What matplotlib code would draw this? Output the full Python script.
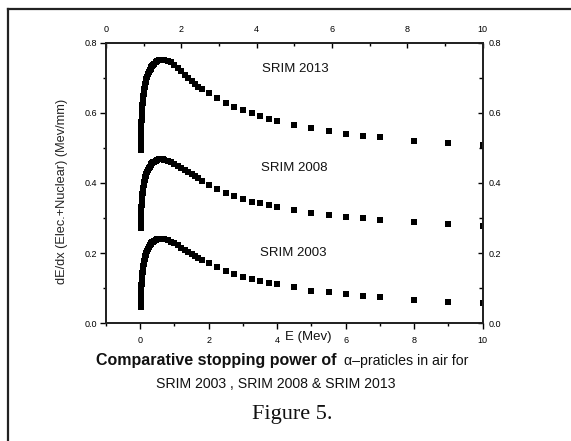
import matplotlib
matplotlib.use("Agg")
import matplotlib.pyplot as plt
from matplotlib.ticker import MultipleLocator, FixedLocator
from matplotlib.lines import Line2D

# ---------------- data ----------------
energy = [0.01, 0.011, 0.012, 0.013, 0.014, 0.015, 0.016, 0.017, 0.018, 0.02,
          0.0225, 0.025, 0.0275, 0.03, 0.0325, 0.035, 0.0375, 0.04, 0.045, 0.05,
          0.055, 0.06, 0.065, 0.07, 0.08, 0.09, 0.1, 0.11, 0.12, 0.13,
          0.14, 0.15, 0.16, 0.17, 0.18, 0.2, 0.225, 0.25, 0.275, 0.3,
          0.325, 0.35, 0.375, 0.4, 0.45, 0.5, 0.55, 0.6, 0.65, 0.7,
          0.8, 0.9, 1.0, 1.1, 1.2, 1.3, 1.4, 1.5, 1.6, 1.7,
          1.8, 2.0, 2.25, 2.5, 2.75, 3.0, 3.25, 3.5, 3.75, 4.0,
          4.5, 5.0, 5.5, 6.0, 6.5, 7.0, 8.0, 9.0, 10.0]

srim2013 = [0.493, 0.498, 0.503, 0.508, 0.512, 0.516, 0.520, 0.524, 0.528, 0.535,
            0.543, 0.550, 0.557, 0.563, 0.569, 0.575, 0.580, 0.585, 0.594, 0.603,
            0.610, 0.617, 0.623, 0.629, 0.639, 0.647, 0.654, 0.661, 0.667, 0.673,
            0.678, 0.683, 0.688, 0.692, 0.696, 0.703, 0.710, 0.716, 0.721, 0.726,
            0.730, 0.734, 0.737, 0.740, 0.745, 0.748, 0.750, 0.752, 0.752, 0.752,
            0.749, 0.744, 0.737, 0.728, 0.718, 0.708, 0.699, 0.690, 0.682, 0.674,
            0.667, 0.656, 0.641, 0.629, 0.617, 0.608, 0.600, 0.590, 0.583, 0.577,
            0.565, 0.556, 0.548, 0.541, 0.535, 0.530, 0.521, 0.513, 0.508]

srim2008 = [0.272, 0.276, 0.280, 0.284, 0.287, 0.290, 0.293, 0.296, 0.299, 0.304,
            0.310, 0.315, 0.320, 0.325, 0.329, 0.333, 0.337, 0.340, 0.347, 0.353,
            0.358, 0.363, 0.368, 0.372, 0.380, 0.387, 0.393, 0.398, 0.403, 0.408,
            0.412, 0.416, 0.420, 0.423, 0.426, 0.432, 0.438, 0.443, 0.447, 0.451,
            0.454, 0.457, 0.459, 0.461, 0.464, 0.466, 0.467, 0.467, 0.467, 0.466,
            0.464, 0.460, 0.455, 0.449, 0.443, 0.437, 0.431, 0.425, 0.419, 0.413,
            0.407, 0.395, 0.382, 0.372, 0.362, 0.354, 0.347, 0.342, 0.337, 0.331,
            0.322, 0.315, 0.310, 0.304, 0.299, 0.295, 0.288, 0.283, 0.277]

srim2003 = [0.047, 0.051, 0.055, 0.059, 0.062, 0.065, 0.068, 0.071, 0.074, 0.079,
            0.085, 0.090, 0.095, 0.100, 0.104, 0.108, 0.112, 0.115, 0.122, 0.128,
            0.133, 0.138, 0.143, 0.147, 0.155, 0.162, 0.168, 0.173, 0.178, 0.183,
            0.187, 0.191, 0.195, 0.198, 0.201, 0.207, 0.213, 0.218, 0.222, 0.226,
            0.229, 0.231, 0.233, 0.235, 0.237, 0.239, 0.240, 0.240, 0.240, 0.239,
            0.237, 0.233, 0.228, 0.222, 0.216, 0.210, 0.204, 0.198, 0.192, 0.186,
            0.181, 0.171, 0.160, 0.149, 0.140, 0.133, 0.127, 0.121, 0.116, 0.111,
            0.103, 0.093, 0.088, 0.084, 0.079, 0.076, 0.067, 0.062, 0.057]

series_labels = ["SRIM 2013", "SRIM 2008", "SRIM 2003"]
bottom_ticks = [0, 2, 4, 6, 8, 10]
top_ticks = [0, 2, 4, 6, 8, 10]
y_ticks = [0.0, 0.2, 0.4, 0.6, 0.8]
y_tick_labels = ["0.0", "0.2", "0.4", "0.6", "0.8"]

# ---------------- figure ----------------
W, H = 571, 441
fig = plt.figure(figsize=(W / 100, H / 100), dpi=100)
plt.rcParams["font.family"] = ["Liberation Sans", "DejaVu Sans"]

def fx(px):
    return px / W

def fy(py):
    return 1 - py / H

# outer frame (left and top edges visible)
fig.add_artist(Line2D([fx(8), fx(8)], [fy(9), fy(445)], color="#222222", lw=1.6,
                      transform=fig.transFigure))
fig.add_artist(Line2D([fx(8), fx(575)], [fy(9), fy(9)], color="#222222", lw=1.6,
                      transform=fig.transFigure))

ax_l, ax_r, ax_t, ax_b = 106, 482.7, 42.7, 323.3
ax = fig.add_axes([fx(ax_l), fy(ax_b), fx(ax_r - ax_l), (ax_b - ax_t) / H])

for yv in (srim2013, srim2008, srim2003):
    ax.plot(energy, yv, linestyle="none", marker="s", markersize=5.0,
            color="black", markeredgewidth=0)

ax.set_xlim(-1, 10)
ax.set_ylim(0, 0.8)
ax.set_xticks(bottom_ticks)
ax.set_xticklabels([str(t) for t in bottom_ticks])
ax.xaxis.set_minor_locator(MultipleLocator(1))
ax.set_yticks(y_ticks)
ax.set_yticklabels(y_tick_labels)
ax.yaxis.set_minor_locator(MultipleLocator(0.1))
ax.tick_params(axis="x", which="major", direction="out", length=4, width=1,
               labelsize=6.5, pad=5)
ax.tick_params(axis="x", which="minor", direction="out", length=2.5, width=1)
ax.tick_params(axis="y", which="major", direction="out", length=4.3, width=1,
               labelsize=6.5, pad=2.2)
ax.tick_params(axis="y", which="minor", direction="out", length=2.5, width=1)
for s in ax.spines.values():
    s.set_linewidth(1.1)
    s.set_color("#222222")

# top axis
axt = ax.twiny()
axt.set_xlim(0, 10)
axt.set_xticks(top_ticks)
axt.set_xticklabels([str(t) for t in top_ticks])
axt.xaxis.set_minor_locator(MultipleLocator(1))
axt.tick_params(axis="x", which="major", direction="in", length=3.5, width=1,
                labelsize=6.5, pad=6.5)
axt.tick_params(axis="x", which="minor", direction="in", length=2, width=1)

# right axis
axr = ax.twinx()
axr.set_ylim(0, 0.8)
axr.set_yticks(y_ticks)
axr.set_yticklabels(y_tick_labels)
axr.yaxis.set_minor_locator(MultipleLocator(0.1))
axr.tick_params(axis="y", which="major", direction="in", length=3.8, width=1,
                labelsize=6.5, pad=4.0)
axr.tick_params(axis="y", which="minor", direction="in", length=3, width=1)
for a in (axt, axr):
    for s in a.spines.values():
        s.set_linewidth(1.1)
        s.set_color("#222222")

# series labels
for lab, (px, py) in zip(series_labels, [(295, 69), (294, 168), (293, 253)]):
    fig.text(fx(px), fy(py), lab, ha="center", va="center", fontsize=9.5,
             color="#111111")

# axis labels
fig.text(fx(62), fy(191), "dE/dx (Elec.+Nuclear) (Mev/mm)", rotation=90,
         ha="center", va="center", fontsize=9.2, color="#222222")
fig.text(fx(285), fy(337), "E (Mev)", ha="left", va="center", fontsize=9.5,
         color="#111111")

# caption
fig.text(fx(96.5), fy(360), "Comparative stopping power of", ha="left",
         va="center", fontsize=11.5, fontweight="bold", color="#111111")
fig.text(fx(344), fy(361), "\u03b1\u2013praticles in air for", ha="left",
         va="center", fontsize=10.2, color="#111111")
fig.text(fx(276), fy(384), "SRIM 2003 , SRIM 2008 & SRIM 2013", ha="center",
         va="center", fontsize=10.2, color="#111111")
fig.text(fx(292), fy(415), "Figure 5.", ha="center", va="center", fontsize=16,
         family=["Liberation Serif", "DejaVu Serif"], color="#111111")

fig.savefig("out.png", dpi=100)
